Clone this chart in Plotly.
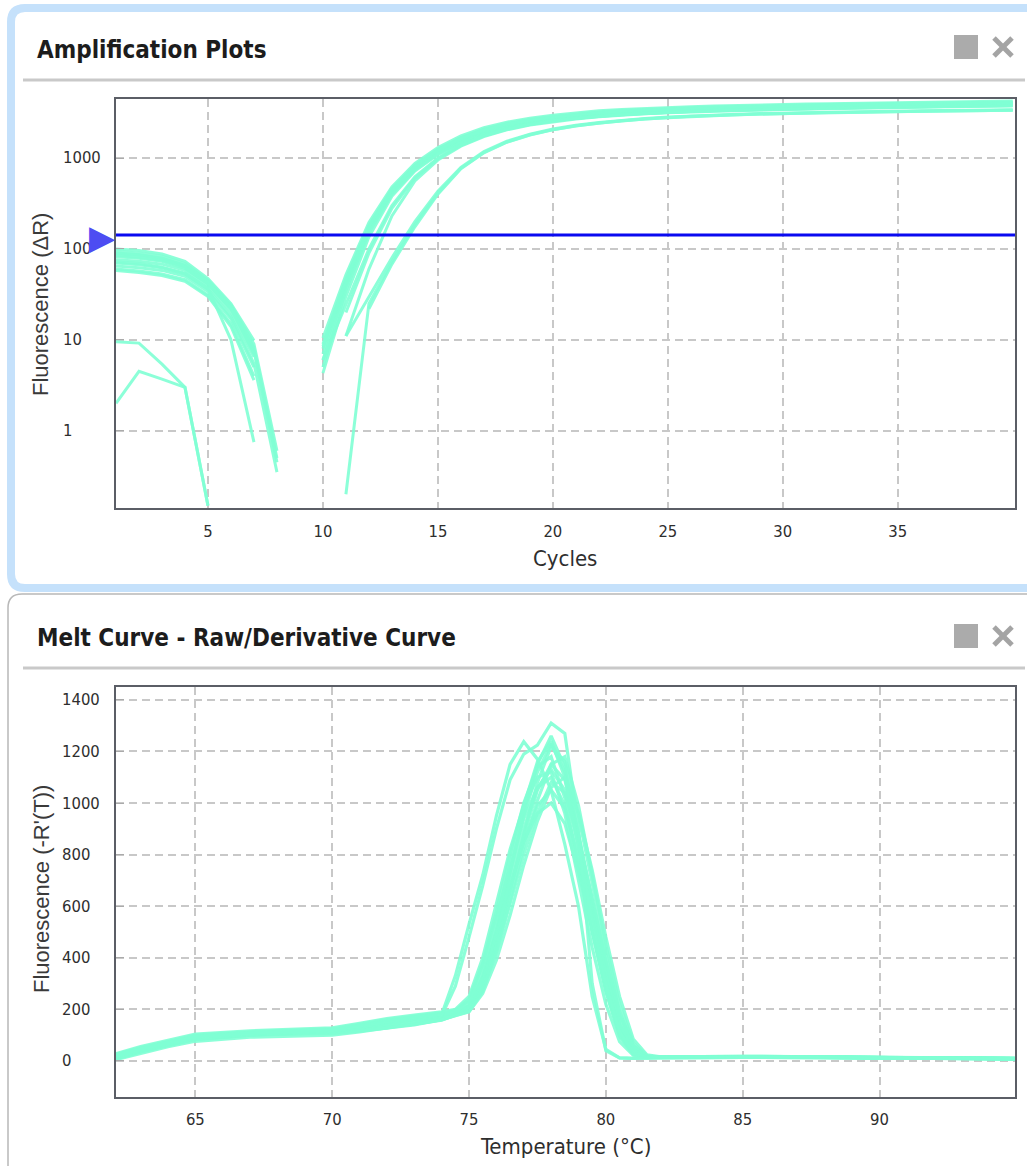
import math
import plotly.graph_objects as go

W, H = 1027, 1166

# ---------------- DATA ----------------
cycles = [1, 2, 3, 4, 5, 6, 7, 8, 9, 10, 11, 12, 13, 14, 15, 16, 17, 18, 19, 20,
          21, 22, 23, 24, 25, 26, 27, 28, 29, 30, 31, 32, 33, 34, 35, 36, 37, 38, 39, 40]

amp_w01 = [100, 96, 88, 73, 47, 25, 9.8, None, None, 10.5, 52, 195, 480, 870, 1300, 1750, 2150, 2480, 2740,
           2950, 3150, 3300, 3420, 3520, 3600, 3670, 3730, 3790, 3840, 3880, 3920, 3960, 4000, 4040, 4080, 4110, 4140, 4170, 4200, 4230]
amp_w02 = [94, 90, 83, 69, 45, 24, 9.0, 0.6, None, 9.0, 47, 180, 455, 830, 1250, 1680, 2070, 2400, 2660,
           2870, 3060, 3210, 3330, 3430, 3510, 3580, 3640, 3700, 3750, 3790, 3830, 3870, 3910, 3950, 3990, 4020, 4050, 4080, 4110, 4140]
amp_w03 = [88, 85, 78, 65, 43, 23, 8.2, None, None, 8.0, 44, 172, 440, 800, 1200, 1620, 2000, 2320, 2580,
           2790, 2970, 3120, 3240, 3340, 3420, 3490, 3550, 3610, 3660, 3700, 3740, 3780, 3820, 3860, 3900, 3930, 3960, 3990, 4020, 4050]
amp_w04 = [82, 79, 73, 61, 41, 22, 7.5, 0.45, None, 7.0, 41, 165, 425, 780, 1170, 1570, 1940, 2260, 2520,
           2730, 2900, 3040, 3160, 3260, 3340, 3410, 3470, 3530, 3580, 3620, 3660, 3700, 3740, 3780, 3810, 3840, 3870, 3900, 3930, 3960]
amp_w05 = [76, 73, 68, 58, 39, 20, 6.5, None, None, 6.0, 38, 158, 415, 760, 1140, 1530, 1890, 2200, 2450,
           2650, 2820, 2960, 3080, 3180, 3260, 3330, 3390, 3440, 3490, 3530, 3570, 3610, 3650, 3690, 3720, 3750, 3780, 3810, 3840, 3870]
amp_w06 = [70, 67, 62, 53, 36, 18, 5.5, 0.35, None, 5.0, 35, 150, 400, 740, 1110, 1490, 1840, 2140, 2390,
           2590, 2760, 2900, 3010, 3110, 3190, 3260, 3320, 3370, 3420, 3460, 3500, 3540, 3580, 3610, 3640, 3670, 3700, 3730, 3760, 3790]
amp_w07 = [65, 62, 58, 50, 34, 17, 5.0, None, None, 4.3, 30, 135, 380, 720, 1090, 1470, 1820, 2120, 2370,
           2570, 2740, 2880, 2990, 3090, 3170, 3240, 3300, 3350, 3400, 3440, 3480, 3520, 3560, 3590, 3620, 3650, 3680, 3710, 3740, 3770]
amp_w08 = [60, 57, 53, 46, 31, 15, 4.0, None, None, None, 11, 60, 230, 560, 950, 1350, 1720, 2040, 2300,
           2510, 2690, 2840, 2960, 3060, 3140, 3210, 3270, 3320, 3370, 3410, 3450, 3490, 3530, 3560, 3590, 3620, 3650, 3680, 3710, 3740]
amp_w09 = [58, 55, 51, 44, 30, 14, 3.6, None, None, None, 11, 30, 80, 200, 430, 790, 1180, 1530, 1830,
           2080, 2290, 2460, 2600, 2720, 2820, 2900, 2970, 3030, 3080, 3120, 3160, 3200, 3230, 3260, 3290, 3310, 3330, 3350, 3370, 3390]
amp_w10 = [72, 69, 63, 54, 37, 10, 0.75, None, None, None, 0.2, 25, 72, 185, 410, 770, 1150, 1500, 1800,
           2050, 2260, 2430, 2570, 2690, 2790, 2870, 2940, 3000, 3050, 3090, 3130, 3170, 3200, 3230, 3260, 3280, 3300, 3320, 3340, 3360]
amp_w11 = [90, 86, 79, 66, 44, 23, 8.0, 0.5, None, None, None, 22, 68, 175, 400, 760, 1140, 1490, 1790,
           2040, 2250, 2420, 2560, 2680, 2780, 2860, 2930, 2990, 3040, 3080, 3120, 3160, 3190, 3220, 3250, 3270, 3290, 3310, 3330, 3350]
amp_w12 = [85, 81, 75, 63, 42, 22, 7.0, None, None, 6.0, 25, 100, 300, 620, 1000, 1400, 1770, 2090, 2350,
           2570, 2750, 2900, 3020, 3120, 3210, 3290, 3360, 3420, 3480, 3530, 3580, 3630, 3670, 3710, 3750, 3790, 3830, 3870, 3910, 3950]
amp_w13 = [9.5, 9.2, 5.4, 3.0, 0.15, None, None, None, None, None, 20, 90, 280, 600, 980, 1380, 1750, 2070, 2330,
           2550, 2730, 2880, 3000, 3100, 3190, 3270, 3340, 3400, 3460, 3510, 3560, 3610, 3650, 3690, 3730, 3770, 3810, 3850, 3890, 3930]
amp_w14 = [2.0, 4.5, 3.7, 3.0, 0.15, None, None, None, None, 8.5, 45, 178, 450, 820, 1230, 1650, 2030, 2360, 2620,
           2830, 3010, 3160, 3280, 3380, 3460, 3530, 3590, 3650, 3700, 3740, 3780, 3820, 3860, 3900, 3940, 3970, 4000, 4030, 4060, 4090]

amp_wells = [amp_w01, amp_w02, amp_w03, amp_w04, amp_w05, amp_w06, amp_w07,
             amp_w08, amp_w09, amp_w10, amp_w11, amp_w12, amp_w13, amp_w14]

threshold = 142
amp_x_ticks = [5, 10, 15, 20, 25, 30, 35]
amp_y_ticks = [1, 10, 100, 1000]
amp_y_labels = ["1", "10", "100", "1000"]

temps = [62, 63, 64, 65, 67, 70, 71, 72, 73, 74,
         74.5, 75, 75.5, 76, 76.5, 77, 77.5, 78, 78.5, 79, 79.5, 80, 80.5, 81, 81.5,
         82, 85, 90, 95]

melt_a = [12, 42, 66, 88, 104, 116, 132, 150, 165, 178,
          195, 240, 380, 580, 800, 1000, 1140, 1180, 1020, 760, 500, 270, 95, 25, 13,
          15, 17, 12, 9]
melt_b = [18, 48, 72, 95, 110, 120, 138, 156, 170, 182,
          188, 212, 320, 500, 730, 960, 1150, 1260, 1140, 880, 600, 350, 140, 38, 15,
          16, 18, 13, 10]
melt_c = [5, 35, 60, 82, 99, 110, 124, 142, 158, 172,
          182, 200, 295, 455, 660, 870, 1050, 1150, 1090, 880, 630, 380, 170, 55, 18,
          14, 16, 11, 8]
melt_d = [22, 52, 75, 100, 113, 124, 142, 160, 174, 186,
          196, 232, 370, 560, 760, 940, 1060, 1100, 990, 760, 500, 270, 100, 28, 14,
          15, 17, 13, 10]
melt_e = [8, 38, 62, 85, 101, 112, 128, 146, 160, 174,
          184, 210, 320, 480, 670, 850, 990, 1050, 980, 790, 560, 330, 140, 45, 16,
          15, 16, 12, 9]
melt_f = [15, 45, 70, 92, 107, 118, 135, 152, 168, 180,
          190, 215, 330, 510, 730, 950, 1120, 1230, 1120, 870, 590, 340, 140, 38, 15,
          16, 17, 13, 10]
melt_g = [10, 40, 64, 86, 102, 113, 120, 130, 142, 158,
          178, 205, 320, 490, 680, 850, 960, 1000, 920, 730, 510, 290, 115, 35, 14,
          14, 16, 12, 9]
melt_h = [20, 50, 74, 97, 111, 122, 126, 135, 148, 165,
          178, 195, 280, 430, 620, 830, 1010, 1150, 1180, 990, 720, 450, 220, 70, 20,
          15, 17, 12, 9]
melt_i = [2, 30, 55, 76, 92, 100, 112, 128, 146, 166,
          180, 198, 290, 450, 660, 880, 1080, 1220, 1160, 950, 690, 420, 190, 60, 18,
          15, 16, 12, 8]
melt_j = [25, 56, 80, 104, 117, 128, 146, 164, 178, 190,
          200, 250, 400, 610, 820, 990, 1100, 1120, 960, 700, 440, 220, 75, 22, 13,
          16, 18, 13, 10]
melt_k = [14, 44, 68, 90, 104, 106, 115, 126, 140, 160,
          176, 192, 270, 420, 610, 800, 960, 1080, 1040, 860, 630, 390, 180, 58, 18,
          14, 16, 11, 8]
melt_l = [6, 36, 61, 84, 100, 114, 130, 148, 162, 176,
          186, 208, 315, 490, 700, 900, 1060, 1130, 1050, 830, 580, 340, 145, 42, 16,
          15, 17, 12, 9]
melt_m = [17, 47, 71, 94, 108, 112, 118, 128, 142, 160,
          175, 190, 262, 390, 565, 760, 930, 1060, 1100, 960, 740, 480, 250, 85, 24,
          16, 17, 12, 9]
melt_n = [11, 41, 65, 87, 103, 117, 134, 151, 167, 180,
          192, 225, 350, 540, 770, 990, 1160, 1240, 1100, 830, 550, 300, 115, 30, 14,
          15, 17, 13, 9]
melt_o1 = [12, 42, 66, 88, 104, 115, 130, 148, 163, 175,
           290, 480, 680, 900, 1090, 1190, 1225, 1310, 1270, 900, 300, 40, 12, 10, 10,
           12, 14, 11, 8]
melt_o2 = [16, 46, 70, 93, 108, 119, 136, 154, 170, 180,
           330, 530, 720, 950, 1150, 1238, 1170, 1050, 840, 600, 250, 45, 12, 10, 10,
           12, 14, 11, 8]

melt_curves = [melt_a, melt_b, melt_c, melt_d, melt_e, melt_f, melt_g, melt_h,
               melt_i, melt_j, melt_k, melt_l, melt_m, melt_n, melt_o1, melt_o2]

melt_x_ticks = [65, 70, 75, 80, 85, 90]
melt_y_ticks = [0, 200, 400, 600, 800, 1000, 1200, 1400]
melt_y_labels = ["0", "200", "400", "600", "800", "1000", "1200", "1400"]

# ---------------- STYLE ----------------
CURVE = "rgba(127,255,212,0.9)"
GRID = "#c8c8c8"
FRAME = "#5b5e66"
TICKFONT = "DejaVu Sans Condensed, DejaVu Sans, sans-serif"
LBLFONT = "Liberation Sans, Arial, sans-serif"


def px(x):
    return x / W


def py(y):
    return 1 - y / H


fig = go.Figure()

for w in amp_wells:
    fig.add_trace(go.Scatter(x=cycles, y=w, mode="lines", xaxis="x", yaxis="y",
                             line=dict(color=CURVE, width=3), connectgaps=False,
                             hoverinfo="skip", showlegend=False))

fig.add_trace(go.Scatter(x=[cycles[0], cycles[-1] + 0.1], y=[threshold, threshold], mode="lines",
                         xaxis="x", yaxis="y", line=dict(color="#0a0af0", width=3),
                         hoverinfo="skip", showlegend=False))

for c in melt_curves:
    fig.add_trace(go.Scatter(x=temps, y=c, mode="lines", xaxis="x2", yaxis="y2",
                             line=dict(color=CURVE, width=3.2),
                             hoverinfo="skip", showlegend=False))

axis_common = dict(showgrid=True, gridcolor=GRID, gridwidth=1.5, griddash="8px,5px",
                   showline=True, linecolor=FRAME, linewidth=2, mirror=True, zeroline=False)

fig.update_layout(
    width=W, height=H, margin=dict(l=0, r=0, t=0, b=0),
    paper_bgcolor="white", plot_bgcolor="white", showlegend=False,
    xaxis=dict(domain=[px(116), px(1015)], anchor="y", range=[1, 40.1], tickvals=amp_x_ticks,
               ticks="", ticklabelstandoff=7,
               tickfont=dict(family=TICKFONT, size=16.5, color="#2e2e2e"), **axis_common),
    yaxis=dict(domain=[py(508), py(99)], anchor="x", type="log", range=[-0.85, 3.649],
               tickvals=amp_y_ticks, showticklabels=False, ticks="inside", ticklen=8,
               tickcolor="#aaaaaa", **axis_common),
    xaxis2=dict(domain=[px(116), px(1015)], anchor="y2", range=[62.1, 94.95], tickvals=melt_x_ticks,
                ticks="", ticklabelstandoff=6,
                tickfont=dict(family=TICKFONT, size=16.5, color="#2e2e2e"), **axis_common),
    yaxis2=dict(domain=[py(1097), py(687)], anchor="x2", range=[-140, 1450],
                tickvals=melt_y_ticks, showticklabels=False, ticks="inside", ticklen=8,
                tickcolor="#aaaaaa", **axis_common),
)

ann = []
# left-aligned y tick labels
for v, t in zip(amp_y_ticks, amp_y_labels):
    ann.append(dict(x=px(61), xref="paper", xanchor="left", y=math.log10(v), yref="y",
                    yanchor="middle", text=t, showarrow=False,
                    font=dict(family=TICKFONT, size=16.5, color="#2e2e2e")))
for v, t in zip(melt_y_ticks, melt_y_labels):
    ann.append(dict(x=px(60), xref="paper", xanchor="left", y=v, yref="y2",
                    yanchor="middle", text=t, showarrow=False,
                    font=dict(family=TICKFONT, size=16.5, color="#2e2e2e")))

# threshold marker
ann.append(dict(x=cycles[0], xref="x", xanchor="right", y=math.log10(threshold), yref="y",
                yanchor="middle", text="\u25B6", showarrow=False, xshift=2, yshift=-2,
                font=dict(family="DejaVu Sans", size=34, color="#4d4df2")))

# panel titles
ann.append(dict(x=px(35), xref="paper", xanchor="left", y=py(50), yref="paper", yanchor="middle",
                text="<b>Amplification Plots</b>", showarrow=False,
                font=dict(family=TICKFONT, size=24, color="#1c1c1c")))
ann.append(dict(x=px(35), xref="paper", xanchor="left", y=py(638), yref="paper", yanchor="middle",
                text="<b>Melt Curve - Raw/Derivative Curve</b>", showarrow=False,
                font=dict(family=TICKFONT, size=24, color="#1c1c1c")))

# axis titles
ann.append(dict(x=px(565), xref="paper", xanchor="center", y=py(558), yref="paper", yanchor="middle",
                text="Cycles", showarrow=False, font=dict(family=TICKFONT, size=22, color="#2e2e2e")))
ann.append(dict(x=px(565), xref="paper", xanchor="center", y=py(1146), yref="paper", yanchor="middle",
                text="Temperature (\u00B0C)", showarrow=False,
                font=dict(family=TICKFONT, size=22, color="#2e2e2e")))
ann.append(dict(x=px(41), xref="paper", xanchor="center", y=py(305), yref="paper", yanchor="middle",
                text="Fluorescence (\u0394R)", textangle=-90, showarrow=False,
                font=dict(family=LBLFONT, size=22, color="#3a3a3a")))
ann.append(dict(x=px(41), xref="paper", xanchor="center", y=py(889), yref="paper", yanchor="middle",
                text="Fluorescence (-R'(T))", textangle=-90, showarrow=False,
                font=dict(family=LBLFONT, size=22, color="#3a3a3a")))

fig.update_layout(annotations=ann)

# ---------------- PANEL DECORATION ----------------
shapes = []
r = 14
# top panel (selected, light blue border)
x0, y0, y1 = 11, 8, 588
shapes.append(dict(type="path", xref="paper", yref="paper", layer="below",
                   path=(f"M {px(1060)},{py(y0)} L {px(x0 + r)},{py(y0)} "
                         f"Q {px(x0)},{py(y0)} {px(x0)},{py(y0 + r)} "
                         f"L {px(x0)},{py(y1 - r)} Q {px(x0)},{py(y1)} {px(x0 + r)},{py(y1)} "
                         f"L {px(1060)},{py(y1)}"),
                   line=dict(color="#c5e1fb", width=8)))
# bottom panel (grey border)
bx, by = 8, 594
shapes.append(dict(type="path", xref="paper", yref="paper", layer="below",
                   path=(f"M {px(1060)},{py(by)} L {px(bx + r)},{py(by)} "
                         f"Q {px(bx)},{py(by)} {px(bx)},{py(by + r)} L {px(bx)},{py(1200)}"),
                   line=dict(color="#b8b8b8", width=1.5)))
# separators
for sy in (80, 668):
    shapes.append(dict(type="line", xref="paper", yref="paper", x0=px(23), x1=px(1025),
                       y0=py(sy), y1=py(sy), line=dict(color="#c9c9c9", width=3)))
# window icons
for iy in (47, 636):
    shapes.append(dict(type="rect", xref="paper", yref="paper", x0=px(954), x1=px(978),
                       y0=py(iy - 12), y1=py(iy + 12), fillcolor="#ababab", line=dict(width=0)))
    shapes.append(dict(type="line", xref="paper", yref="paper", x0=px(994), x1=px(1012),
                       y0=py(iy - 9), y1=py(iy + 9), line=dict(color="#a4a4a4", width=5)))
    shapes.append(dict(type="line", xref="paper", yref="paper", x0=px(994), x1=px(1012),
                       y0=py(iy + 9), y1=py(iy - 9), line=dict(color="#a4a4a4", width=5)))

fig.update_layout(shapes=shapes)

fig.write_html("out.html", config={"displayModeBar": False},
               post_script="document.body.style.margin='0px';document.body.style.overflow='hidden';")
